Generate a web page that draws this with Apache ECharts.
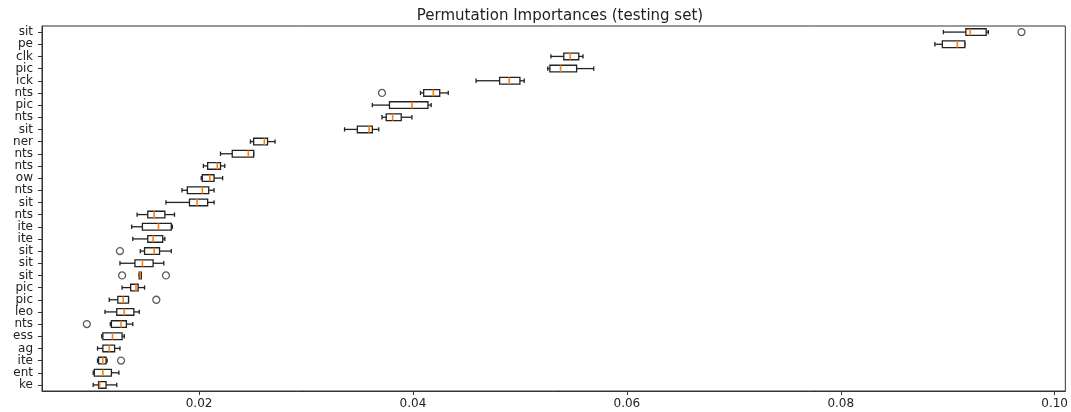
<!DOCTYPE html>
<html>
<head>
<meta charset="utf-8">
<script src="https://cdn.jsdelivr.net/npm/echarts@6/dist/echarts.min.js"></script>
<style>html,body{margin:0;padding:0;background:#fff;}#c{width:1071px;height:412px;}</style>
</head>
<body>
<div id="c"></div>
<script>
const titleText = 'Permutation Importances (testing set)';
const labels = ['sit','pe','clk','pic','ick','nts','pic','nts','sit','ner','nts','nts','ow','nts','sit','nts','ite','ite','sit','sit','sit','pic','pic','leo','nts','ess','ag','ite','ent','ke'];
const whiskerLow  = [0.0896,0.0888,0.0529,0.0526,0.0459,0.0407,0.0362,0.0371,0.0336,0.0248,0.0220,0.0204,0.0202,0.0184,0.0169,0.0142,0.0137,0.0138,0.0145,0.0126,0.0144,0.0128,0.0116,0.0112,0.0117,0.0109,0.0105,0.0105,0.0101,0.0101];
const q1          = [0.0917,0.0895,0.0541,0.0528,0.0481,0.0410,0.0378,0.0375,0.0348,0.0251,0.0231,0.0208,0.0203,0.0189,0.0191,0.0152,0.0147,0.0152,0.0149,0.0140,0.0144,0.0136,0.0124,0.0123,0.0118,0.0110,0.0110,0.0106,0.0102,0.0106];
const median      = [0.0921,0.0909,0.0547,0.0538,0.0490,0.0419,0.0399,0.0381,0.0359,0.0261,0.0246,0.0217,0.0210,0.0203,0.0198,0.0158,0.0162,0.0157,0.0158,0.0147,0.0145,0.0141,0.0129,0.0130,0.0127,0.0119,0.0116,0.0110,0.0110,0.0107];
const q3          = [0.0936,0.0916,0.0555,0.0553,0.0500,0.0425,0.0414,0.0389,0.0362,0.0264,0.0251,0.0220,0.0214,0.0209,0.0208,0.0168,0.0174,0.0166,0.0163,0.0157,0.0146,0.0143,0.0134,0.0139,0.0132,0.0128,0.0121,0.0113,0.0118,0.0113];
const whiskerHigh = [0.0938,0.0916,0.0559,0.0569,0.0504,0.0433,0.0417,0.0399,0.0368,0.0271,0.0251,0.0224,0.0222,0.0214,0.0214,0.0177,0.0175,0.0168,0.0174,0.0167,0.0146,0.0149,0.0134,0.0144,0.0138,0.0130,0.0126,0.0114,0.0125,0.0123];
const outlierRows   = [0, 5, 18, 20, 20, 22, 24, 27];
const outlierValues = [0.0969, 0.0371, 0.0126, 0.0128, 0.0169, 0.0160, 0.0095, 0.0127];
const xTickValues = [0.02, 0.04, 0.06, 0.08, 0.10];

const boxData = labels.map((_, i) => [i, whiskerLow[i], q1[i], median[i], q3[i], whiskerHigh[i]]);
const outlierData = outlierRows.map((r, k) => [outlierValues[k], r]);

const chart = echarts.init(document.getElementById('c'), null, {renderer: 'canvas'});
const lineCol = '#222';
chart.setOption({
  animation: false,
  backgroundColor: '#fff',
  title: {
    text: titleText,
    left: 555, top: 4, textAlign: 'center',
    textStyle: {fontFamily: 'DejaVu Sans', fontSize: 15, fontWeight: 'normal', color: '#222'}
  },
  grid: {left: 42, right: 4, top: 26, bottom: 21, show: true, borderColor: '#333', borderWidth: 1, backgroundColor: 'transparent'},
  xAxis: {
    type: 'value', min: 0.00531, max: 0.1010,
    splitLine: {show: false},
    axisLine: {show: true, onZero: false, lineStyle: {color: '#333'}},
    axisTick: {show: true, length: 4, customValues: xTickValues, lineStyle: {color: '#333'}},
    axisLabel: {customValues: xTickValues, formatter: v => v.toFixed(2), margin: 7,
      fontFamily: 'DejaVu Sans', fontSize: 12, color: '#222'}
  },
  yAxis: {
    type: 'category', data: labels, inverse: true,
    axisLine: {show: true, lineStyle: {color: '#333'}},
    axisTick: {show: true, alignWithLabel: true, length: 4, lineStyle: {color: '#333'}},
    axisLabel: {margin: 9, interval: 0, fontFamily: 'DejaVu Sans', fontSize: 12, color: '#222'},
    splitLine: {show: false}
  },
  series: [
    {
      type: 'custom',
      data: boxData,
      encode: {x: [1, 2, 3, 4, 5], y: 0},
      renderItem: function (params, api) {
        const idx = api.value(0);
        const yc = api.coord([api.value(3), idx])[1];
        const band = api.size([0, 1])[1];
        const h = band * 0.55;
        const cap = h * 0.5;
        const px = i => api.coord([api.value(i), idx])[0];
        const wl = px(1), b1 = px(2), md = px(3), b3 = px(4), wh = px(5);
        const ls = {stroke: lineCol, lineWidth: 1.3, fill: null};
        return {
          type: 'group',
          children: [
            {type: 'line', shape: {x1: wl, y1: yc, x2: b1, y2: yc}, style: ls},
            {type: 'line', shape: {x1: b3, y1: yc, x2: wh, y2: yc}, style: ls},
            {type: 'line', shape: {x1: wl, y1: yc - cap / 2 - 0.5, x2: wl, y2: yc + cap / 2 + 0.5}, style: ls},
            {type: 'line', shape: {x1: wh, y1: yc - cap / 2 - 0.5, x2: wh, y2: yc + cap / 2 + 0.5}, style: ls},
            {type: 'rect', shape: {x: b1, y: yc - h / 2, width: Math.max(b3 - b1, 0.5), height: h}, style: {stroke: lineCol, lineWidth: 1.3, fill: '#fff'}},
            {type: 'line', shape: {x1: md, y1: yc - h / 2, x2: md, y2: yc + h / 2}, style: {stroke: '#ff7f0e', lineWidth: 1.6}}
          ]
        };
      },
      z: 2
    },
    {
      type: 'scatter',
      data: outlierData,
      symbol: 'circle',
      symbolSize: 7,
      itemStyle: {color: 'rgba(255,255,255,0)', borderColor: '#333', borderWidth: 1.3},
      z: 3
    }
  ]
});
</script>
</body>
</html>
